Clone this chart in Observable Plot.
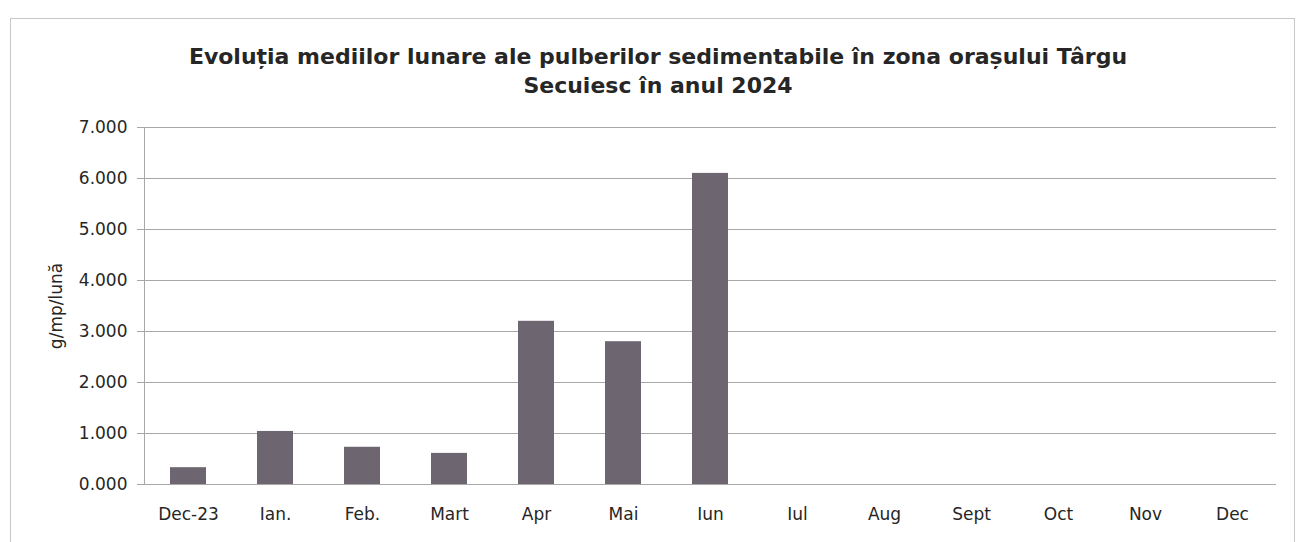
<!DOCTYPE html>
<html>
<head>
<meta charset="utf-8">
<script src="https://cdn.jsdelivr.net/npm/d3@7"></script>
<script src="https://cdn.jsdelivr.net/npm/@observablehq/plot@0.6"></script>
<style>
  html, body { margin: 0; padding: 0; background: #fff; }
  #wrap { position: relative; width: 1308px; height: 542px; overflow: hidden; background: #fff; }
  #frame { position: absolute; left: 10px; top: 18px; width: 1285px; height: 530px; border: 1px solid #c8c8c8; box-sizing: border-box; }
  #title { position: absolute; left: 158px; width: 1000px; top: 42px; text-align: center;
           font-family: "DejaVu Sans", sans-serif; font-weight: bold; font-size: 22px; line-height: 29px; color: #262626; }
  #chart { position: absolute; left: 0; top: 0; }
</style>
</head>
<body>
<div id="wrap">
  <div id="frame"></div>
  <div id="chart"></div>
  <div id="title">Evoluția mediilor lunare ale pulberilor sedimentabile în zona orașului Târgu<br>Secuiesc în anul 2024</div>
</div>
<script>
const months = ["Dec-23", "Ian.", "Feb.", "Mart", "Apr", "Mai", "Iun", "Iul", "Aug", "Sept", "Oct", "Nov", "Dec"];
const values = [0.33, 1.04, 0.73, 0.61, 3.2, 2.8, 6.1, null, null, null, null, null, null];
const yTicks = [0, 1, 2, 3, 4, 5, 6, 7];
const yLabel = "g/mp/lună";

const data = months.map((m, i) => ({month: m, value: values[i]})).filter(d => d.value != null);

const chart = Plot.plot({
  width: 1308,
  height: 542,
  marginLeft: 144,
  marginRight: 32,
  marginTop: 127,
  marginBottom: 58,
  style: {fontFamily: "DejaVu Sans, sans-serif", fontSize: "17px", color: "#262626", background: "transparent"},
  x: {domain: months, paddingInner: 0.59, paddingOuter: 0.295, label: null},
  y: {domain: [0, 7], label: null},
  marks: [
    Plot.gridY(yTicks, {stroke: "#a8a8a8", strokeOpacity: 1, strokeWidth: 1}),
    Plot.barY(data, {x: "month", y: "value", fill: "#6d6570"}),
    Plot.frame({anchor: "left", stroke: "#a8a8a8", strokeOpacity: 1}),
    Plot.axisY(yTicks, {tickSize: 7, tickPadding: 10, stroke: "#a8a8a8", tickFormat: d3.format(".3f"), fontSize: 17, fill: "#262626", label: null}),
    Plot.axisX({tickSize: 0, tickPadding: 23, fontSize: 17, fill: "#262626", label: null}),
    Plot.text([yLabel], {frameAnchor: "left", dx: -88, rotate: -90, textAnchor: "middle", fontSize: 17, fill: "#262626", text: d => d})
  ]
});
document.getElementById("chart").appendChild(chart);
</script>
</body>
</html>
